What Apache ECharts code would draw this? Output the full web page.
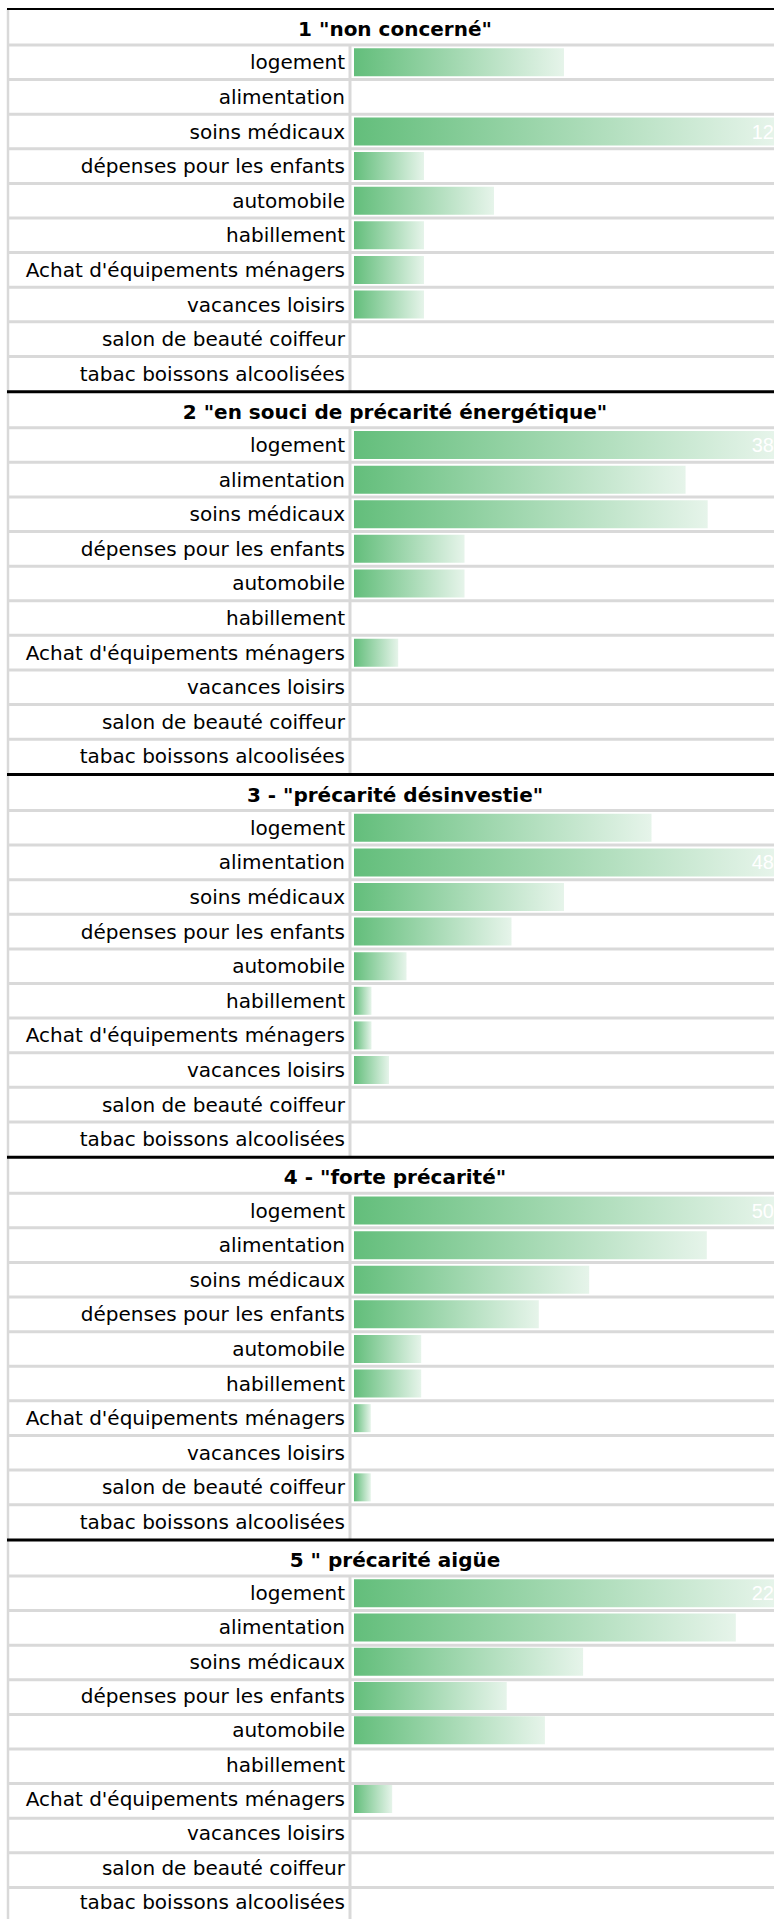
<!DOCTYPE html>
<html>
<head>
<meta charset="utf-8">
<title>Postes de dépenses par profil</title>
<script src="https://cdn.jsdelivr.net/npm/echarts@6/dist/echarts.min.js"></script>
<style>
  html, body { margin: 0; padding: 0; background: #fff; }
  #main { width: 774px; height: 1919px; }
</style>
</head>
<body>
<div id="main"></div>
<script>
// lignes de chaque bloc
const categories = ['logement', 'alimentation', 'soins médicaux', 'dépenses pour les enfants', 'automobile',
  'habillement', "Achat d'équipements ménagers", 'vacances loisirs', 'salon de beauté coiffeur', 'tabac boissons alcoolisées'];

const groupTitles = ['1 "non concerné"', '2 "en souci de précarité énergétique"', '3 - "précarité désinvestie"',
  '4 - "forte précarité"', '5 " précarité aigüe'];

const nonConcerne = [6, 0, 12, 2, 4, 2, 2, 2, 0, 0];
const souciEnergetique = [38, 30, 32, 10, 10, 0, 4, 0, 0, 0];
const precariteDesinvestie = [34, 48, 24, 18, 6, 2, 2, 4, 0, 0];
const fortePrecarite = [50, 42, 28, 22, 8, 8, 2, 0, 2, 0];
const precariteAigue = [22, 20, 12, 8, 10, 0, 2, 0, 0, 0];

const groups = [nonConcerne, souciEnergetique, precariteDesinvestie, fortePrecarite, precariteAigue];

// mise en page du tableau
const TOP0 = 9;
const SECTION_H = 382.75;
const TITLE_H = 36;
const ROW_H = 34.6;
const TABLE_LEFT = 8;
const COL_X = 350;
const BAR_X = 354;
const BAR_END = 778; // la cellule déborde un peu à droite
const WIDTH = 774;
const GREY = '#D9D9D9';
const FONT = 'DejaVu Sans';

const chart = echarts.init(document.getElementById('main'), null, { renderer: 'svg' });

const grid = [], xAxis = [], yAxis = [], series = [], graphic = [];

groups.forEach((values, k) => {
  const st = TOP0 + k * SECTION_H;
  const max = Math.max(...values);

  grid.push({
    left: BAR_X,
    right: WIDTH - BAR_END,
    top: st + TITLE_H,
    height: ROW_H * categories.length,
    containLabel: false
  });
  xAxis.push({
    type: 'value',
    gridIndex: k,
    min: 0,
    max: max,
    show: false
  });
  yAxis.push({
    type: 'category',
    gridIndex: k,
    inverse: true,
    data: categories,
    axisLine: { show: false },
    axisTick: { show: false },
    splitLine: { show: false },
    axisLabel: {
      margin: 9,
      color: '#000',
      fontSize: 20,
      fontFamily: FONT
    }
  });
  series.push({
    type: 'bar',
    xAxisIndex: k,
    yAxisIndex: k,
    data: values,
    barWidth: 28,
    silent: true,
    itemStyle: {
      color: new echarts.graphic.LinearGradient(0, 0, 1, 0, [
        { offset: 0, color: '#63BE7B' },
        { offset: 1, color: '#E6F4EA' }
      ])
    },
    label: {
      show: true,
      position: 'insideRight',
      distance: 0,
      color: '#fff',
      fontSize: 20,
      fontFamily: 'Liberation Sans',
      formatter: (p) => (p.value === max ? String(p.value) : '')
    }
  });

  // traits gris des lignes
  for (let i = 0; i < categories.length; i++) {
    const y = st + TITLE_H + i * ROW_H;
    graphic.push({
      type: 'line',
      shape: { x1: TABLE_LEFT, y1: y, x2: WIDTH, y2: y },
      style: { stroke: GREY, lineWidth: 3 },
      silent: true
    });
  }
  // séparation libellés / barres
  graphic.push({
    type: 'line',
    shape: { x1: COL_X, y1: st + TITLE_H, x2: COL_X, y2: st + SECTION_H },
    style: { stroke: GREY, lineWidth: 3 },
    silent: true
  });
  // bord gauche
  graphic.push({
    type: 'line',
    shape: { x1: TABLE_LEFT, y1: st, x2: TABLE_LEFT, y2: st + SECTION_H },
    style: { stroke: GREY, lineWidth: 2.5 },
    silent: true
  });
  // bordure noire en haut du bloc
  graphic.push({
    type: 'line',
    shape: { x1: TABLE_LEFT - 1, y1: st, x2: WIDTH, y2: st },
    style: { stroke: '#000', lineWidth: k === 0 ? 2 : 3 },
    silent: true
  });
  // titre du bloc
  graphic.push({
    type: 'text',
    x: 395,
    y: st + 20,
    silent: true,
    style: {
      text: groupTitles[k],
      fontSize: 20,
      fontWeight: 'bold',
      fontFamily: FONT,
      fill: '#000',
      align: 'center',
      verticalAlign: 'middle'
    }
  });
});

const option = {
  backgroundColor: '#fff',
  animation: false,
  grid: grid,
  xAxis: xAxis,
  yAxis: yAxis,
  series: series,
  graphic: graphic
};

chart.setOption(option);
</script>
</body>
</html>
